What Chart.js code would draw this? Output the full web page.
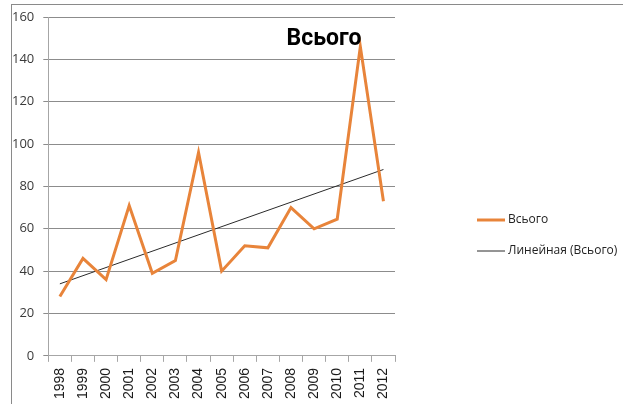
<!DOCTYPE html>
<html><head><meta charset="utf-8">
<script src="https://cdn.jsdelivr.net/npm/chart.js@4/dist/chart.umd.min.js"></script>
<style>
html,body{margin:0;padding:0;background:#fff;}
#wrap{position:relative;width:623px;height:406px;overflow:hidden;background:#fff;}
#frame{position:absolute;left:11px;top:4px;width:620px;height:399px;border-left:1px solid #8a8a8a;border-top:1px solid #8a8a8a;}
canvas{position:absolute;left:0;top:0;}
</style></head><body>
<div id="wrap"><div id="frame"></div><canvas id="c" width="623" height="406"></canvas></div>
<script>
const years = ['1998','1999','2000','2001','2002','2003','2004','2005','2006','2007','2008','2009','2010','2011','2012'];
const totals = [28, 46, 36, 71, 39, 45, 96, 40, 52, 51, 70, 60, 64.5, 146, 73];
const trend = [34, null, null, null, null, null, null, null, null, null, null, null, null, null, 88];
const seriesName = 'Всього';
const trendName = 'Линейная (Всього)';
const chartTitle = 'Всього';
const yMin = 0, yMax = 160, yStep = 20;

Chart.defaults.font.family = "'Open Sans', sans-serif";

const titlePlugin = {
  id: 'inTitle',
  afterDraw(chart) {
    const {ctx, chartArea: a} = chart;
    ctx.save();
    ctx.font = "bold 23px Roboto, 'Open Sans', sans-serif";
    ctx.fillStyle = '#000';
    ctx.textAlign = 'center';
    ctx.textBaseline = 'alphabetic';
    ctx.fillText(chartTitle, a.left + a.width * 0.795, a.top + 27.5);
    ctx.restore();
  }
};

const sideLegend = {
  id: 'sideLegend',
  afterDraw(chart) {
    const {ctx, chartArea: a} = chart;
    const x0 = a.right + 82, swatch = 28, gap = 3;
    ctx.save();
    ctx.font = "12px 'Open Sans', sans-serif";
    ctx.textAlign = 'left';
    ctx.textBaseline = 'middle';
    chart.data.datasets.forEach((ds, i) => {
      const y = a.top + 203 + i * 31;
      ctx.strokeStyle = ds.borderColor;
      ctx.lineWidth = ds.borderWidth;
      ctx.beginPath();
      ctx.moveTo(x0, y);
      ctx.lineTo(x0 + swatch, y);
      ctx.stroke();
      ctx.fillStyle = '#222';
      ctx.fillText(ds.label, x0 + swatch + gap, y);
    });
    ctx.restore();
  }
};

new Chart(document.getElementById('c'), {
  type: 'line',
  data: {
    labels: years,
    datasets: [
      {
        label: seriesName,
        data: totals,
        borderColor: '#e8843a',
        backgroundColor: '#e8843a',
        borderWidth: 3,
        pointRadius: 0,
        tension: 0,
        fill: false
      },
      {
        label: trendName,
        data: trend,
        spanGaps: true,
        borderColor: '#2a2a2a',
        backgroundColor: '#2a2a2a',
        borderWidth: 1,
        pointRadius: 0,
        tension: 0,
        fill: false
      }
    ]
  },
  options: {
    responsive: false,
    animation: false,
    devicePixelRatio: 1,
    layout: { padding: { left: 3, top: 17, right: 228, bottom: 1 } },
    plugins: {
      tooltip: { enabled: false },
      title: { display: false },
      legend: { display: false }
    },
    scales: {
      x: {
        offset: true,
        grid: { offset: true, drawOnChartArea: false, drawTicks: true, tickLength: 6, color: '#a6a6a6' },
        border: { color: '#a6a6a6' },
        ticks: {
          autoSkip: false,
          minRotation: 90,
          maxRotation: 90,
          padding: 6,
          color: '#1a1a1a',
          font: { size: 14, family: "'Liberation Sans', Arial, sans-serif" }
        }
      },
      y: {
        min: yMin,
        max: yMax,
        grid: { color: '#8c8c8c', tickLength: 5 },
        border: { color: '#a6a6a6' },
        ticks: { stepSize: yStep, padding: 9, color: '#3a3a3a', font: { size: 13 } }
      }
    }
  },
  plugins: [titlePlugin, sideLegend]
});
</script>
</body></html>
